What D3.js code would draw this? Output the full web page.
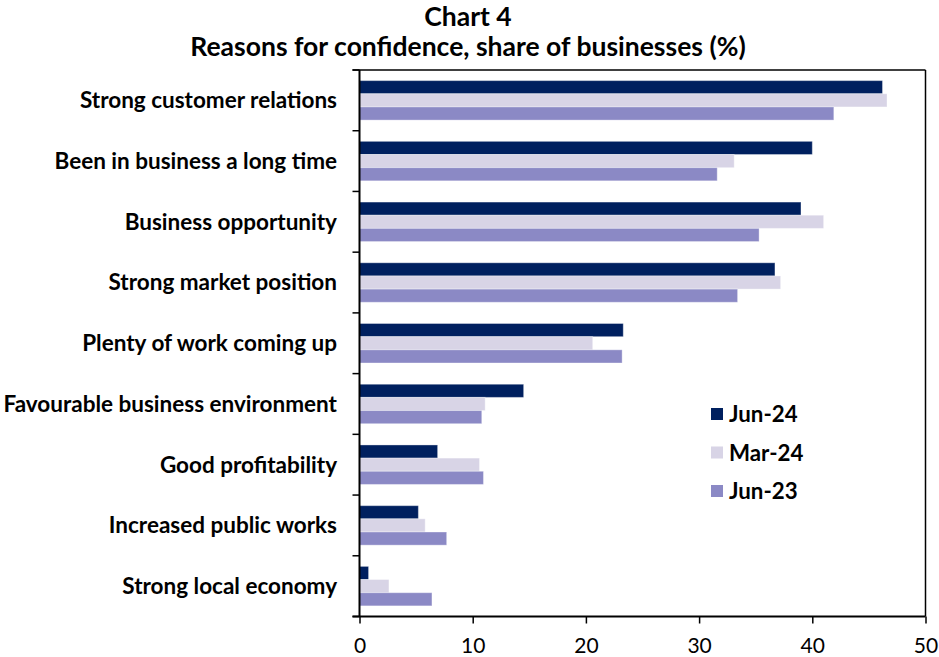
<!DOCTYPE html>
<html><head><meta charset="utf-8">
<script src="https://cdn.jsdelivr.net/npm/d3@7"></script>
<style>body{margin:0;background:#fff}svg{display:block}text{font-family:Lato,"Noto Sans",sans-serif;fill:#000}</style>
</head><body><svg id="c" width="939" height="657"></svg>
<script>
const categories = ["Strong customer relations","Been in business a long time","Business opportunity","Strong market position","Plenty of work coming up","Favourable business environment","Good profitability","Increased public works","Strong local economy"];
const seriesNames = ["Jun-24","Mar-24","Jun-23"];
const jun24 = [46.2,40.0,39.0,36.7,23.3,14.5,6.9,5.2,0.8];
const mar24 = [46.6,33.1,41.0,37.2,20.6,11.1,10.6,5.8,2.6];
const jun23 = [41.9,31.6,35.3,33.4,23.2,10.8,10.95,7.7,6.4];
const xTicks = [0,10,20,30,40,50];
const colors = ["#00205f","#d8d4e6","#8b89c5"];
const values = [jun24, mar24, jun23];

const svg = d3.select("#c");
const L = 359.5, R = 925.5, T = 70, B = 616.5;
const x = d3.scaleLinear().domain([0,50]).range([L,R]);
const y0 = d3.scaleBand().domain(categories).range([T,B]).paddingInner(0.35).paddingOuter(0.175);
const y1 = d3.scaleBand().domain(seriesNames).range([0,y0.bandwidth()]);

// title
svg.append("text").attr("x",468).attr("y",26).attr("text-anchor","middle").attr("font-weight","bold").attr("font-size",26.5).text("Chart 4");
svg.append("text").attr("x",468).attr("y",56).attr("text-anchor","middle").attr("font-weight","bold").attr("font-size",26.5).text("Reasons for confidence, share of businesses (%)");

// bars
const g = svg.append("g");
categories.forEach((c,i)=>{
  seriesNames.forEach((s,j)=>{
    g.append("rect").attr("x",x(0)).attr("y",y0(c)+y1(s))
      .attr("width",x(values[j][i])-x(0)).attr("height",y1.bandwidth())
      .attr("fill",colors[j]).attr("stroke","rgba(255,255,255,0.35)").attr("stroke-width",1);
  });
});

// border top/right
svg.append("line").attr("x1",L-7).attr("x2",R).attr("y1",T).attr("y2",T).attr("stroke","#000").attr("stroke-width",1.5);
svg.append("line").attr("x1",R).attr("x2",R).attr("y1",T).attr("y2",B).attr("stroke","#000").attr("stroke-width",1.5);

// bottom axis
const xAxis = d3.axisBottom(x).tickValues(xTicks).tickSize(7).tickPadding(15);
const ga = svg.append("g").attr("transform",`translate(0,${B})`).call(xAxis);
ga.select(".domain").attr("stroke-width",2).attr("d",`M${L-7},0H${R}`);
ga.selectAll(".tick line").attr("stroke-width",1.5);
ga.selectAll("text").attr("font-size",21).attr("font-family","Lato").attr("fill","#000");

// left axis with ticks at category boundaries
const bounds = d3.range(categories.length+1).map(k=>T+k*y0.step());
svg.append("line").attr("x1",L).attr("x2",L).attr("y1",T).attr("y2",B).attr("stroke","#000").attr("stroke-width",2);
svg.append("g").selectAll("line").data(bounds).join("line")
  .attr("x1",L-7).attr("x2",L).attr("y1",d=>d).attr("y2",d=>d).attr("stroke","#000").attr("stroke-width",1.5);
svg.append("g").selectAll("text").data(categories).join("text")
  .attr("x",337).attr("y",d=>y0(d)+y0.bandwidth()/2).attr("dy","0.35em")
  .attr("text-anchor","end").attr("font-weight","bold").attr("font-size",22.5).text(d=>d);

// legend
const lg = svg.append("g");
seriesNames.forEach((s,j)=>{
  const yy = 414 + j*38.5;
  lg.append("rect").attr("x",711).attr("y",yy-6).attr("width",12).attr("height",12).attr("fill",colors[j]);
  lg.append("text").attr("x",729).attr("y",yy).attr("dy","0.36em").attr("font-weight","bold").attr("font-size",22.3).text(s);
});
</script></body></html>
